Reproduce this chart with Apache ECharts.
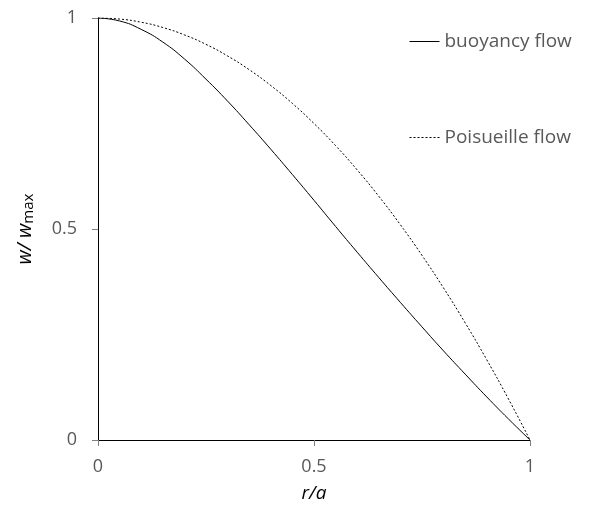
<!DOCTYPE html>
<html>
<head>
    <meta charset="utf-8">
    <title>ECharts</title>
    <script type="text/javascript" src="https://cdn.jsdelivr.net/npm/echarts@6/dist/echarts.min.js"></script>
    <style>
        html, body { margin: 0; padding: 0; background: #fff; }
    </style>
</head>
<body>
<div id="main" style="width: 602px;height:509px;"></div>
<script type="text/javascript">
    // r/a 取值
    var rValues = [0, 0.05, 0.1, 0.15, 0.2, 0.25, 0.3, 0.35, 0.4, 0.45, 0.5,
                   0.55, 0.6, 0.65, 0.7, 0.75, 0.8, 0.85, 0.9, 0.95, 1];
    // 浮力驱动流
    var buoyancyFlow = [1, 0.993, 0.973, 0.943, 0.903, 0.855, 0.803, 0.747, 0.689, 0.629, 0.568,
                        0.506, 0.445, 0.385, 0.326, 0.268, 0.211, 0.156, 0.102, 0.05, 0];
    // 泊肃叶流
    var poiseuilleFlow = [1, 0.9975, 0.99, 0.9775, 0.96, 0.9375, 0.91, 0.8775, 0.84, 0.7975, 0.75,
                          0.6975, 0.64, 0.5775, 0.51, 0.4375, 0.36, 0.2775, 0.19, 0.0975, 0];
    var tickValues = [0, 0.5, 1];

    function pairs(ys) {
        return rValues.map(function (r, i) { return [r, ys[i]]; });
    }

    var font = '"Open Sans", sans-serif';
    var labelColor = '#595959';

    var myChart = echarts.init(document.getElementById('main'));

    var legendText = { color: labelColor, fontSize: 19, fontFamily: font };

    myChart.setOption({
        animation: false,
        grid: { left: 98, right: 72, top: 18, bottom: 69 },
        legend: [{
            left: 404, top: 27,
            itemWidth: 30, itemHeight: 14,
            itemStyle: { opacity: 0 },
            lineStyle: { width: 1 },
            data: ['buoyancy flow'],
            textStyle: legendText
        }, {
            left: 404, top: 123,
            itemWidth: 30, itemHeight: 14,
            itemStyle: { opacity: 0 },
            lineStyle: { width: 1 },
            data: ['Poisueille flow'],
            textStyle: legendText
        }],
        xAxis: {
            type: 'value', min: 0, max: 1, interval: 0.5,
            name: 'r/a', nameLocation: 'middle', nameGap: 44,
            nameTextStyle: { color: '#000', fontSize: 19, fontStyle: 'italic', fontFamily: font },
            axisLine: { lineStyle: { color: '#000', width: 1 } },
            axisTick: { show: true, length: 6, lineStyle: { color: '#808080' } },
            axisLabel: {
                color: labelColor, fontSize: 18, fontFamily: font, margin: 18,
                formatter: function (v) { return tickValues.indexOf(v) >= 0 ? String(v) : ''; }
            },
            splitLine: { show: false }
        },
        yAxis: {
            type: 'value', min: 0, max: 1, interval: 0.5,
            name: '{i|w/ w}{s|max}', nameLocation: 'middle', nameGap: 62,
            nameTextStyle: {
                rich: {
                    i: { color: '#000', fontSize: 20, fontStyle: 'italic', fontFamily: font },
                    s: { color: '#000', fontSize: 15, fontFamily: font, verticalAlign: 'bottom', padding: [6, 0, 0, 0] }
                }
            },
            axisLine: { show: true, lineStyle: { color: '#000', width: 1 } },
            axisTick: { show: true, length: 6, lineStyle: { color: '#808080' } },
            axisLabel: {
                color: labelColor, fontSize: 18, fontFamily: font, margin: 21,
                formatter: function (v) { return tickValues.indexOf(v) >= 0 ? String(v) : ''; }
            },
            splitLine: { show: false }
        },
        series: [{
            name: 'buoyancy flow',
            type: 'line',
            smooth: true,
            symbol: 'none',
            data: pairs(buoyancyFlow),
            lineStyle: { color: '#000', width: 1 },
            itemStyle: { color: '#000' }
        }, {
            name: 'Poisueille flow',
            type: 'line',
            smooth: true,
            symbol: 'none',
            data: pairs(poiseuilleFlow),
            lineStyle: { color: '#000', width: 1, type: [2, 2] },
            itemStyle: { color: '#000' }
        }]
    });
</script>
</body>
</html>
